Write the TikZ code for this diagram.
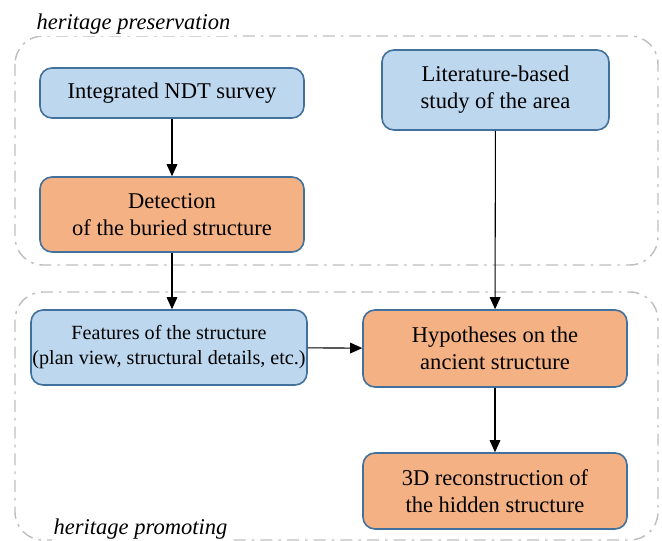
\documentclass[tikz,border=0pt]{standalone}
\usepackage{fontspec}
\setmainfont{Liberation Serif}
\usetikzlibrary{arrows.meta, positioning}

\definecolor{boxblue}{HTML}{BDD7EE}
\definecolor{boxorange}{HTML}{F4B183}
\definecolor{boxline}{HTML}{41719C}
\definecolor{groupline}{HTML}{BFBFBF}

\begin{document}
\begin{tikzpicture}[
    x=0.75pt, y=-0.75pt,
    block/.style={draw=boxline, line width=1.2pt, rounded corners=9pt, align=center,
        inner sep=0pt, font=\fontsize{16.9}{20.3}\selectfont},
    blue/.style={block, fill=boxblue},
    orange/.style={block, fill=boxorange},
    group/.style={draw=groupline, line width=1.1pt, rounded corners=21pt,
        dash pattern=on 9pt off 4.5pt on 2pt off 4.5pt},
    grouplabel/.style={fill=white, inner sep=1pt, anchor=base west,
        font=\fontsize{16.9}{20}\selectfont\itshape},
    link/.style={line width=0.8pt, -{Triangle[length=9pt,width=8pt]}}
]
    \useasboundingbox (0,0) rectangle (662,541);

    % Groups
    \draw[group] (15,36) rectangle (658,265);
    \draw[group] (15,292) rectangle (658,540);
    \node[grouplabel] (preserve) at (35,30) {heritage preservation};
    \node[grouplabel] (promote) at (52,535) {heritage promoting};

    % Boxes
    \node[blue, minimum width=198pt, minimum height=37.5pt] (survey) at (172,93) {Integrated NDT survey};
    \node[orange, minimum width=198pt, minimum height=56.25pt] (detect) at (172,214.5) {Detection\\of the buried structure};
    \node[blue, minimum width=170.25pt, minimum height=60pt] (literature) at (495.5,90) {Literature-based\\study of the area};
    \node[blue, minimum width=207pt, minimum height=56.25pt,
        font=\fontsize{15.1}{18.75}\selectfont] (features) at (169,347.5)
        {Features of the structure\\(plan view, structural details, etc.)};
    \node[orange, minimum width=198pt, minimum height=57.75pt] (hypo) at (495,348.5) {Hypotheses on the\\ancient structure};
    \node[orange, minimum width=198pt, minimum height=57pt] (recon) at (495,491) {3D reconstruction of\\the hidden structure};

    % Links
    \draw[link] (survey) -- (detect);
    \draw[link] (detect.south) -- (features.north -| detect.south);
    \draw[link] (literature) -- (hypo);
    \draw[link] (features) -- (hypo);
    \draw[link] (hypo) -- (recon);

\end{tikzpicture}
\end{document}
